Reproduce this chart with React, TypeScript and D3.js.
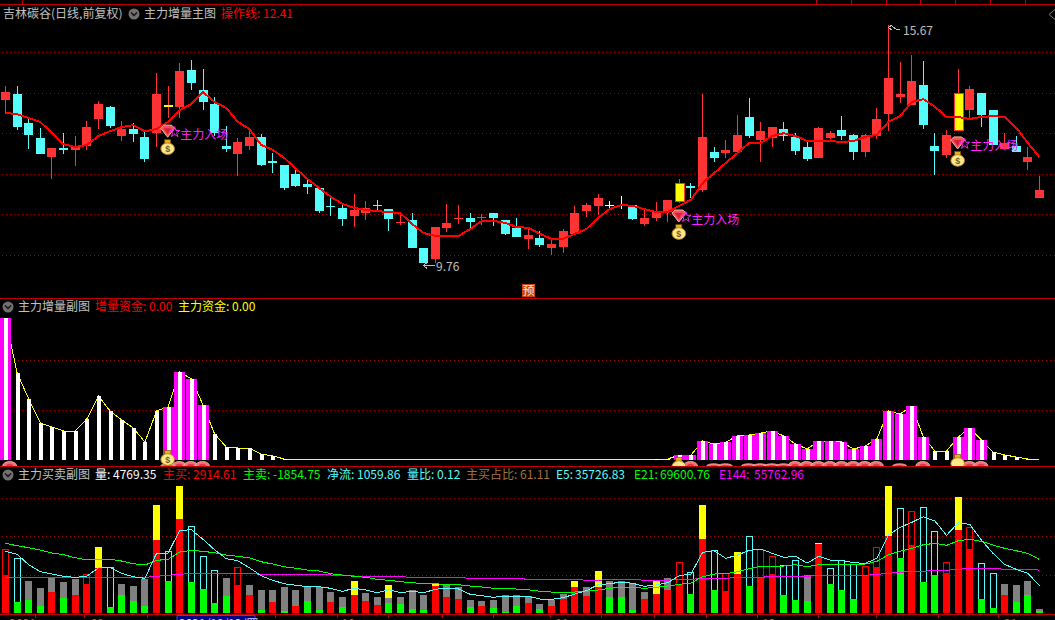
import React from "react";
import * as d3 from "d3";

const W = 1055;
const H = 620;

const stockTitle = "吉林碳谷(日线,前复权)";
const highLabel = "15.67";
const lowLabel = "9.76";

const opens = [13.82,13.97,13.25,12.88,12.41,12.64,12.59,12.69,13.35,13.65,12.93,13.10,12.91,13.00,13.65,13.65,14.56,14.06,13.72,12.69,12.49,12.69,12.91,12.32,12.22,12.00,11.75,11.65,11.20,11.16,10.96,11.03,11.23,11.13,10.80,10.86,10.17,9.90,10.67,10.90,10.91,10.92,11.03,10.86,10.67,10.40,10.42,10.17,10.20,10.52,11.08,11.21,11.22,11.23,11.23,10.76,10.91,11.06,11.33,11.70,11.60,12.54,12.51,12.54,13.40,12.83,12.88,13.10,12.91,12.66,12.39,12.88,13.08,12.96,12.54,12.93,13.47,13.89,13.70,14.19,12.69,12.46,13.08,13.57,13.99,13.57,12.61,12.69,12.29,11.40];
const closes = [14.01,13.15,12.96,12.49,12.64,12.59,12.66,13.15,13.72,13.18,13.10,12.98,12.37,13.97,13.70,14.53,14.24,13.77,13.00,12.61,12.78,12.91,12.22,12.27,11.65,11.70,11.67,11.08,11.18,10.89,11.11,11.16,11.21,10.89,10.81,10.17,9.80,10.69,10.79,10.91,10.81,10.94,10.91,10.52,10.44,10.49,10.25,10.27,10.59,11.03,11.23,11.40,11.22,11.23,10.89,10.91,11.06,11.36,11.77,11.65,12.91,12.39,12.59,12.96,12.93,13.05,13.15,12.93,12.56,12.37,13.13,13.00,12.93,12.54,12.96,13.35,14.36,13.97,14.29,13.20,12.56,12.96,13.99,14.09,13.45,12.71,12.76,12.54,12.41,11.60];
const highs = [14.16,14.16,13.40,13.13,12.64,13.00,12.93,13.30,13.79,13.67,13.30,13.25,13.03,14.48,14.16,14.73,14.80,14.58,13.89,13.18,12.88,13.10,12.98,12.51,12.22,12.09,11.85,11.65,11.43,11.26,11.50,11.33,11.36,11.13,11.01,11.03,10.17,10.69,11.26,11.23,11.03,11.01,11.03,10.86,10.91,10.69,10.59,10.37,10.64,11.21,11.28,11.50,11.33,11.45,11.23,11.11,11.31,11.36,11.87,11.77,13.97,12.66,12.83,13.45,13.87,13.28,13.15,13.28,13.00,12.78,13.15,13.05,13.42,12.98,12.98,13.62,15.67,14.75,14.93,14.78,13.00,13.08,14.58,14.16,13.99,13.57,13.00,12.93,12.66,11.95];
const lows = [13.50,13.08,12.61,12.49,11.87,12.49,12.19,12.59,13.10,13.13,12.81,12.78,12.29,12.66,13.37,13.37,14.06,13.57,12.93,12.54,11.95,12.59,12.19,12.02,11.60,11.67,11.50,11.03,10.96,10.71,10.69,10.86,11.11,10.59,10.74,10.17,9.80,9.80,10.57,10.76,10.67,10.74,10.71,10.49,10.44,10.15,10.20,10.00,10.05,10.49,10.94,10.99,11.11,11.13,10.86,10.71,10.84,10.81,11.28,11.40,11.55,12.29,12.39,12.54,12.88,12.29,12.66,12.81,12.46,12.32,12.39,12.86,12.83,12.34,12.41,12.86,13.05,13.74,13.70,13.10,11.97,12.39,13.08,13.35,13.15,12.71,12.61,12.54,12.09,11.40];
const operationLine = [13.50,13.47,13.37,13.28,13.00,12.73,12.66,12.71,12.93,13.05,13.15,13.20,13.05,13.10,13.28,13.57,13.72,14.01,13.77,13.62,13.28,13.10,12.71,12.59,12.39,12.12,11.87,11.65,11.43,11.26,11.16,11.11,11.08,11.06,11.03,10.76,10.54,10.47,10.47,10.47,10.64,10.84,10.84,10.79,10.69,10.67,10.52,10.40,10.40,10.52,10.64,10.91,11.13,11.23,11.21,11.13,11.06,11.06,11.21,11.36,11.77,12.02,12.27,12.51,12.76,12.76,12.93,13.00,12.93,12.81,12.81,12.81,12.78,12.81,12.91,12.96,13.28,13.42,13.77,13.84,13.65,13.40,13.40,13.35,13.40,13.42,13.40,13.13,12.76,12.41];
const yellowCandles = [14, 58, 82];
const signalCandles = [14, 58, 82];
const priceGrid = [15, 14, 13, 12, 11, 10];

const flowValues = [284,174,122,74,66,58,58,82,128,98,80,64,36,98,106,176,162,110,52,26,24,24,12,8,2,1,1,1,1,1,1,1,1,1,1,1,1,1,1,1,1,1,1,1,1,1,1,1,1,1,1,1,1,1,1,1,2,2,10,10,38,32,36,48,50,54,58,48,32,22,38,38,36,22,28,42,98,92,108,46,18,18,46,64,40,16,10,6,2,1];
const flowWide = [0,14,15,16,17,58,59,60,61,62,63,64,65,66,67,68,69,70,71,72,73,74,75,76,77,78,79,82,83,84];
const flowGrid = [100, 200];
const gemTall = [0.4,15,16,17,59,68,69,70,71,72,73,74,75,79,83,84];
const gemShort = [14,58,61,62,64,65,66,67,77];

const volTop = [82.8,71.1,41.6,32.5,45.5,40.3,44.2,50.7,85.8,59.4,37.7,35.1,44.2,140.4,80.2,165.1,112.7,73.7,55.5,45.5,59.4,36.4,29.9,29.9,33.8,29.9,33.8,33.8,27.3,20.8,41.6,26.0,20.8,36.4,20.8,29.9,23.4,37.7,36.4,33.8,16.9,15.6,16.9,23.4,23.4,22.1,11.7,16.9,24.7,41.6,33.8,54.6,41.6,41.6,39.0,27.3,41.6,45.5,65.9,52.9,140.4,81.5,51.6,79.3,99.7,82.8,73.7,62.0,68.5,49.0,91.0,58.1,68.5,63.3,60.7,85.4,165.1,136.1,132.2,137.4,106.2,65.9,150.8,111.4,64.6,51.6,37.7,36.4,41.6,4.77];
const volSplit = [49.4,14.3,16.9,9.1,27.3,19.5,23.4,37.7,58.5,7.8,23.4,15.6,9.1,94.9,41.6,122.2,40.3,31.2,13.0,22.1,36.4,23.4,3.9,14.3,2.6,9.1,15.6,3.9,14.3,7.8,23.4,15.6,10.4,13.0,11.7,5.2,3.9,35.1,20.8,18.2,7.8,9.1,6.5,1.3,9.1,13.0,5.2,9.1,18.2,33.8,22.1,33.8,20.8,20.8,3.9,18.2,24.7,29.9,37.7,24.7,96.2,29.9,28.6,50.7,35.1,46.8,50.7,23.4,16.9,15.6,89.7,37.7,29.9,18.2,49.0,59.8,100.1,71.5,88.4,40.3,49.4,52.0,107.9,83.2,18.2,6.5,23.4,14.3,23.4,3.0];
const volKind = "HCggrgrHYCgggYCYCCCgHrgrgrggrgYrrggggYrrgrgggrgrrYrYgggrYrHCYCHYCHHCCgYCCCHHYCHCCHYHCCrggg";
const volYellowOverGray: Record<number, number> = { 33: 19.5 };
const e5 = [80.2,76.3,62.8,53.7,50.7,47.7,46.4,47.7,58.9,58.9,51.6,47.2,45.1,77.6,78.0,107.5,108.3,95.8,82.3,70.6,68.0,58.9,48.5,42.5,38.1,36.0,34.2,34.2,32.1,28.2,32.1,29.9,26.4,30.3,26.4,28.2,26.4,30.8,32.5,31.2,24.3,22.5,20.4,22.1,21.7,21.7,18.2,17.8,19.9,24.7,29.0,36.8,38.1,40.3,38.6,34.7,36.4,39.4,48.5,50.7,78.9,81.0,71.1,75.4,81.5,83.2,77.6,72.4,73.7,65.0,73.7,68.9,68.5,65.4,64.6,71.1,101.4,111.4,117.9,125.2,119.6,101.0,117.4,115.3,94.9,77.6,63.3,56.8,51.6,35.73];
const e21 = [90.6,87.5,84.9,81.9,78.0,75.8,71.9,68.9,69.8,69.8,67.6,64.1,62.4,68.5,69.8,79.3,81.5,80.2,78.4,75.4,73.7,71.9,66.7,63.7,60.2,58.1,55.9,54.6,51.1,49.4,47.7,46.4,43.8,42.5,40.7,39.4,38.1,38.1,36.8,36.8,35.1,33.8,32.1,32.1,31.2,30.3,28.2,27.3,26.4,27.3,28.2,29.9,32.1,33.4,33.4,32.1,33.4,35.1,37.3,39.0,47.2,50.7,51.1,53.7,57.6,60.7,60.7,61.1,62.8,60.2,62.8,63.3,63.3,63.3,63.7,67.2,75.8,80.2,84.1,88.8,90.6,88.0,94.0,95.8,93.2,88.4,84.1,81.0,77.6,69.6];
const e144 = [46.4,46.4,46.4,46.4,46.4,46.4,46.4,46.4,46.4,46.4,46.4,46.4,46.4,47.7,49.0,50.3,51.6,51.6,51.6,51.6,51.6,51.6,50.3,50.3,50.3,50.3,50.3,50.3,49.4,49.0,48.1,47.7,47.2,47.2,47.2,46.4,46.4,46.4,46.4,46.4,45.1,45.1,45.1,45.1,45.1,43.8,43.8,43.8,43.8,43.8,42.5,42.5,43.8,43.8,43.8,42.5,42.5,42.5,43.8,43.8,45.1,45.1,45.1,46.4,46.4,46.4,47.7,47.7,47.7,47.7,49.0,49.0,49.0,49.0,49.0,50.3,51.6,52.9,54.2,54.2,55.5,55.5,56.8,58.1,58.1,58.1,56.8,56.8,56.8,55.76];
const volGrid = [50, 100, 150];

const topTicks = [1.5,69.8,72.8,75.8,78.8,81.8,84.8,87.8];
const bottomTicks = [2.54,6.76,12.26,21.3,23.2,28.6,33,37.6,42,46.9,51.3,55.9,60.3,64.7,70,75,80.3,85.5];
const dateLabels: [number, string][] = [[0.2,"2021"],[7.2,"09"],[28.8,"10"],[47.2,"11"],[65,"12"],[85.8,"01"]];
const cursorDate = "2021/10/12/四";

const x = d3.scaleLinear().domain([0, 89]).range([5, 1039]);
const yPrice = d3.scaleLinear().domain([10, 15]).range([255, 52]);
const yFlow = d3.scaleLinear().domain([0, 284]).range([460, 318]);
const yVol = d3.scaleLinear().domain([0, 150]).range([613, 497.7]);

const RED = "#ff3333";
const CYAN = "#54fcfc";
const GRAY = "#c0c0c0";
const FONT = "'Noto Sans CJK SC', 'Noto Sans', sans-serif";

const px = (v: number) => Math.round(v);
const starPath = d3.symbol(d3.symbolStar, 34)() || "";

function Chevron({ cx, cy }: { cx: number; cy: number }) {
  return (
    <g>
      <circle cx={cx} cy={cy} r={5.5} fill="#707070" />
      <polyline points={`${cx - 3},${cy - 1.5} ${cx},${cy + 1.5} ${cx + 3},${cy - 1.5}`} fill="none" stroke="#111" strokeWidth={1.4} />
    </g>
  );
}

function Gem({ cx, cy }: { cx: number; cy: number }) {
  return (
    <g>
      <polygon points={`${cx - 7},${cy - 3} ${cx - 4},${cy - 6} ${cx + 4},${cy - 6} ${cx + 7},${cy - 3} ${cx},${cy + 6}`} fill="#f0505a" stroke="#ffb0a8" strokeWidth={1} />
      <polygon points={`${cx - 4},${cy - 3} ${cx + 4},${cy - 3} ${cx},${cy + 3}`} fill="#d82030" />
    </g>
  );
}

function Bag({ cx, cy, sign = true }: { cx: number; cy: number; sign?: boolean }) {
  return (
    <g>
      <rect x={cx - 3} y={cy - 7.5} width={6} height={4} fill="#e8b020" stroke="#704800" strokeWidth={0.6} />
      <ellipse cx={cx} cy={cy + 1.5} rx={6.8} ry={5.8} fill="#ffe88a" stroke="#b88820" strokeWidth={1} />
      {sign && <text x={cx} y={cy + 4.6} textAnchor="middle" fontSize={9} fontWeight={700} fill="#7a5a20" fontFamily="Liberation Sans, sans-serif">$</text>}
    </g>
  );
}

function Label({ x: tx, y, fill, children }: { x: number; y: number; fill: string; children: React.ReactNode }) {
  return (
    <text x={tx} y={y} fill={fill} fontSize={12} fontFamily={FONT}>{children}</text>
  );
}

function Grid({ ys }: { ys: number[] }) {
  return (
    <g shapeRendering="crispEdges">
      {ys.map((v, i) => (
        <line key={i} x1={2} x2={W} y1={px(v) + 0.5} y2={px(v) + 0.5} stroke="#a00000" strokeWidth={1} strokeDasharray="1 3" />
      ))}
    </g>
  );
}

export default function App() {
  const idx = d3.range(opens.length);
  const priceLine = d3.line<number>().x((_, i) => x(i) + 0.5).y((d) => yPrice(d));
  const flowLine = d3.line<number>().x((_, i) => x(i) + 0.5).y((d) => yFlow(d));
  const volLine = d3.line<number>().x((_, i) => x(i) + 0.5).y((d) => yVol(d));

  return (
    <svg width={W} height={H} viewBox={`0 0 ${W} ${H}`} style={{ position: "fixed", left: 0, top: 0, display: "block", background: "#000" }}>
      <defs>
        <clipPath id="pane2"><rect x={0} y={299} width={W} height={167} /></clipPath>
      </defs>
      <rect width={W} height={H} fill="#000" />

      {/* main pane */}
      <Grid ys={priceGrid.map((p) => yPrice(p))} />
      <g shapeRendering="crispEdges">
        {idx.map((i) => {
          const up = closes[i] > opens[i];
          const flat = closes[i] === opens[i];
          const yellow = yellowCandles.includes(i);
          const col = flat ? "#ffffff" : up ? RED : CYAN;
          const wick = yellow ? RED : col;
          const top = yPrice(Math.max(opens[i], closes[i]));
          const bottom = yPrice(Math.min(opens[i], closes[i]));
          const cx = px(x(i));
          return (
            <g key={i}>
              <line x1={cx + 0.5} x2={cx + 0.5} y1={yPrice(highs[i])} y2={yPrice(lows[i])} stroke={wick} />
              <rect x={cx - 4} y={px(top)} width={9} height={Math.max(1, px(bottom) - px(top))} fill={yellow ? "#ffff00" : col} stroke={yellow && i !== 14 ? RED : "none"} strokeWidth={1} />
            </g>
          );
        })}
      </g>
      <path d={priceLine(operationLine) || ""} fill="none" stroke="#ff0000" strokeWidth={2} shapeRendering="crispEdges" />
      {signalCandles.map((i) => {
        const base = yPrice(lows[i]);
        return (
          <g key={i}>
            <Gem cx={x(i)} cy={base + 13} />
            <Bag cx={x(i)} cy={base + 29} />
            <path d={starPath} transform={`translate(${x(i) + 7},${base + 14})`} fill="none" stroke="#ff22ff" strokeWidth={1} />
            <text x={x(i) + 12.5} y={base + 20.5} fill="#ff22ff" fontSize={12} fontFamily={FONT}>主力入场</text>
          </g>
        );
      })}
      <g stroke={GRAY} fill="none" strokeWidth={1} shapeRendering="crispEdges">
        <path d="M423.5,265.5 H435 M423.5,265.5 L427,262.5 M423.5,265.5 L427,268.5" />
        <path d="M888.5,27.5 L891,25.5 L896,29 H900 M888.5,27.5 L892,30" />
      </g>
      <Label x={436} y={271} fill={GRAY}>{lowLabel}</Label>
      <Label x={903} y={35} fill={GRAY}>{highLabel}</Label>
      <rect x={522} y={284} width={13} height={13} fill="#c8440c" />
      <text x={528.5} y={295} textAnchor="middle" fontSize={12} fill="#ffe8d0" fontFamily={FONT}>预</text>
      <polyline points="1055,9.5 1049,14.5 1055,19.5" fill="none" stroke="#777" />

      {/* flow pane */}
      <Grid ys={flowGrid.map((v) => yFlow(v))} />
      <path d={flowLine(flowValues) || ""} fill="none" stroke="#ffff00" strokeWidth={1} shapeRendering="crispEdges" />
      <g shapeRendering="crispEdges">
        {idx.map((i) => {
          const t = px(yFlow(flowValues[i]));
          const b = px(yFlow(0));
          if (b - t < 1) return null;
          const cx = px(x(i));
          return (
            <g key={i}>
              {flowWide.includes(i) && <rect x={cx - 5} y={t} width={11} height={b - t} fill="#ff00ff" />}
              <rect x={cx - 1} y={t} width={4} height={b - t} fill="#ffffff" />
            </g>
          );
        })}
      </g>
      <g clipPath="url(#pane2)">
        {[...gemTall.map((i) => ({ i, rise: 4.5 })), ...gemShort.map((i) => ({ i, rise: 2.2 }))].map(({ i, rise }) => (
          <g key={i}>
            <ellipse cx={x(i)} cy={466} rx={7} ry={rise} fill="#f07078" stroke="#ffb8a8" strokeWidth={0.8} />
            <ellipse cx={x(i)} cy={466} rx={3.5} ry={rise / 2} fill="#e03848" />
          </g>
        ))}
        <Bag cx={x(14)} cy={458} />
        <Bag cx={x(58)} cy={465} sign={false} />
        <Bag cx={x(82)} cy={462} sign={false} />
      </g>

      {/* volume pane */}
      <Grid ys={volGrid.map((v) => yVol(v))} />
      <g shapeRendering="crispEdges">
        {idx.map((i) => {
          const k = volKind[i];
          const cx = px(x(i));
          const top = px(yVol(volTop[i]));
          const split = px(yVol(volSplit[i]));
          const base = px(yVol(0));
          const lower = k === "H" || k === "Y" || k === "r" ? "#ff0000" : "#00ff00";
          const mid = volYellowOverGray[i];
          return (
            <g key={i}>
              {k === "H" && <rect x={cx - 2.5} y={top + 0.5} width={6} height={split - top} fill="none" stroke="#ff0000" />}
              {k === "C" && <rect x={cx - 2.5} y={top + 0.5} width={6} height={split - top} fill="none" stroke={CYAN} />}
              {k === "Y" && <rect x={cx - 3} y={top} width={7} height={split - top} fill="#ffff00" />}
              {(k === "g" || k === "r") && <rect x={cx - 3} y={top} width={7} height={split - top} fill="#808080" />}
              {mid !== undefined && <rect x={cx - 3} y={top} width={7} height={px(yVol(mid)) - top} fill="#ffff00" />}
              <rect x={cx - 3} y={split} width={7} height={base - split} fill={lower} />
            </g>
          );
        })}
      </g>
      <path d={volLine(e144) || ""} fill="none" stroke="#ff00ff" strokeWidth={1} shapeRendering="crispEdges" />
      <path d={volLine(e21) || ""} fill="none" stroke="#00ff00" strokeWidth={1} shapeRendering="crispEdges" />
      <path d={volLine(e5) || ""} fill="none" stroke={CYAN} strokeWidth={1} shapeRendering="crispEdges" />

      {/* frame */}
      <g shapeRendering="crispEdges" stroke="#c00000">
        <line x1={0} x2={W} y1={4.5} y2={4.5} />
        <line x1={0} x2={W} y1={298.5} y2={298.5} />
        <line x1={0} x2={W} y1={466.5} y2={466.5} />
        <line x1={0} x2={W} y1={614.5} y2={614.5} />
        {topTicks.map((t, i) => <line key={i} x1={px(x(t)) + 0.5} x2={px(x(t)) + 0.5} y1={0} y2={4} />)}
        {bottomTicks.map((t, i) => <line key={i} x1={px(x(t)) + 0.5} x2={px(x(t)) + 0.5} y1={615} y2={618} />)}
      </g>
      {dateLabels.map(([t, s], i) => (
        <text key={i} x={x(t) + 2} y={628} fill="#ff3030" fontSize={12} fontFamily={FONT}>{s}</text>
      ))}
      <rect x={177} y={615.5} width={78} height={6} fill="#000080" stroke="#3a4ad0" />
      <text x={179} y={628} fill="#c8c8ff" fontSize={12} fontFamily={FONT}>{cursorDate}</text>

      {/* header texts */}
      <Label x={3} y={18} fill={GRAY}>{stockTitle}</Label>
      <Chevron cx={134} cy={14} />
      <Label x={144} y={18} fill={GRAY}>主力增量主图</Label>
      <Label x={221} y={18} fill="#ff0000">操作线:</Label>
      <Label x={263} y={18} fill="#ff0000">12.41</Label>

      <Chevron cx={8} cy={307} />
      <Label x={18} y={311} fill={GRAY}>主力增量副图</Label>
      <Label x={95} y={311} fill="#ff0000">增量资金:</Label>
      <Label x={149} y={311} fill="#ff0000">0.00</Label>
      <Label x={178} y={311} fill="#ffff00">主力资金:</Label>
      <Label x={232} y={311} fill="#ffff00">0.00</Label>

      <Chevron cx={8} cy={475} />
      <Label x={18} y={479} fill={GRAY}>主力买卖副图</Label>
      <Label x={95} y={479} fill="#ffffff">量:</Label>
      <Label x={113} y={479} fill="#ffffff">4769.35</Label>
      <Label x={163} y={479} fill="#ff0000">主买:</Label>
      <Label x={193} y={479} fill="#ff0000">2914.61</Label>
      <Label x={243} y={479} fill="#00ff00">主卖:</Label>
      <Label x={273} y={479} fill="#00ff00">-1854.75</Label>
      <Label x={327} y={479} fill={CYAN}>净流:</Label>
      <Label x={357} y={479} fill={CYAN}>1059.86</Label>
      <Label x={407} y={479} fill={CYAN}>量比:</Label>
      <Label x={437} y={479} fill={CYAN}>0.12</Label>
      <Label x={466} y={479} fill="#a8703c">主买占比:</Label>
      <Label x={520} y={479} fill="#a8703c">61.11</Label>
      <Label x={556} y={479} fill={CYAN}>E5:</Label>
      <Label x={575} y={479} fill={CYAN}>35726.83</Label>
      <Label x={634} y={479} fill="#00ff00">E21:</Label>
      <Label x={660} y={479} fill="#00ff00">69600.76</Label>
      <Label x={719} y={479} fill="#ff00ff">E144:</Label>
      <Label x={754} y={479} fill="#ff00ff">55762.96</Label>
    </svg>
  );
}
